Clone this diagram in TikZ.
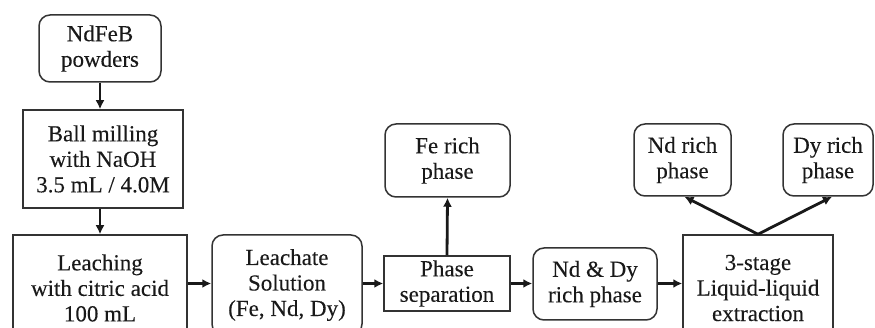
\documentclass[tikz,border=0pt]{standalone}
\usepackage{fontspec}
\setmainfont{Liberation Serif}[FakeBold=0.15]
\usetikzlibrary{arrows.meta}
\tikzset{
  base/.style={draw=black!80, line width=1.5pt, inner sep=0pt, align=center, text=black!90,
    font=\fontsize{23}{25.5}\selectfont},
  rbox/.style={base, rounded corners=11pt},
  sbox/.style={base},
  arr/.style={line width=2.8pt, draw=black!90, -{Latex[length=9pt,width=9pt]}}
}
\begin{document}
\begin{tikzpicture}[x=1pt,y=-1pt]
\useasboundingbox (0,0) rectangle (875,328);
\clip (0,0) rectangle (875,328);
\node[rbox, minimum width=122pt, minimum height=67pt] (ndfeb) at (100,48.5) {NdFeB\\powders};
\node[sbox, minimum width=160pt, minimum height=98pt] (ball) at (103,159) {Ball milling\\with NaOH\\3.5 mL / 4.0M};
\node[sbox, minimum width=174pt, minimum height=106pt] (leach) at (100,288) {Leaching\\with citric acid\\100 mL};
\node[rbox, minimum width=150pt, minimum height=100pt] (leachate) at (287,285) {Leachate\\Solution\\(Fe, Nd, Dy)};
\node[sbox, minimum width=126pt, minimum height=55pt] (phase) at (447,283.5) {Phase\\separation};
\node[rbox, minimum width=125pt, minimum height=73pt] (fe) at (447.5,160.5) {Fe rich\\phase};
\node[rbox, minimum width=124pt, minimum height=72pt] (nddy) at (595,284) {Nd \& Dy\\rich phase};
\node[sbox, minimum width=150pt, minimum height=106pt] (ext) at (758,288) {3-stage\\Liquid-liquid\\extraction};
\node[rbox, minimum width=97pt, minimum height=72pt] (nd) at (682.5,160) {Nd rich\\phase};
\node[rbox, minimum width=90pt, minimum height=72pt] (dy) at (828,160) {Dy rich\\phase};
\draw[arr] (ndfeb.south) -- (ndfeb.south |- ball.north);
\draw[arr] (leach.north |- ball.south) -- (leach.north);
\draw[arr] (leach.east |- phase.west) -- (leachate.west |- phase.west);
\draw[arr] (leachate.east |- phase.west) -- (phase.west);
\draw[arr] (phase.north) -- (fe.south);
\draw[arr] (phase.east) -- (nddy.west |- phase.east);
\draw[arr] (nddy.east |- phase.east) -- (ext.west |- phase.east);
\draw[arr] (ext.north) -- ([xshift=2pt]nd.south);
\draw[arr] (ext.north) -- ([xshift=4pt]dy.south);
\end{tikzpicture}
\end{document}
